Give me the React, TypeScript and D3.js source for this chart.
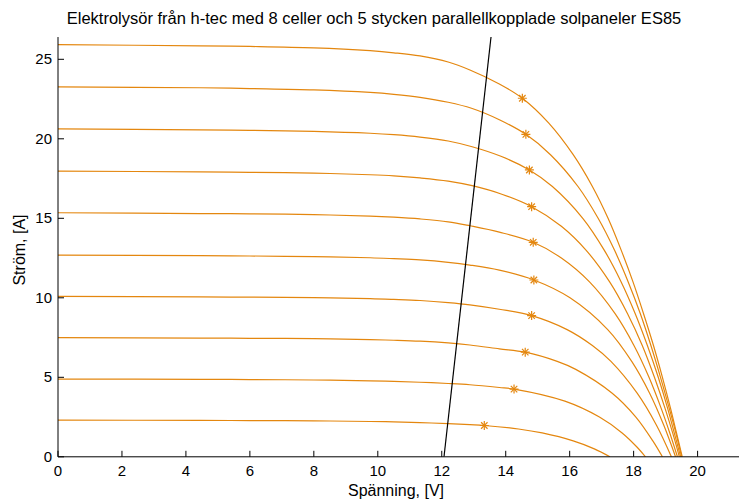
import React from "react";
import * as d3 from "d3";

// Solar panel I-V curves (voltage [V], current [A]), one per irradiance level
const curve1: [number, number][] = [[0, 25.92], [4.44, 25.85], [6, 25.81], [8, 25.72], [9.76, 25.54], [10.5, 25.41], [11.32, 25.21], [12.2, 24.83], [12.88, 24.33], [13.8, 23.45], [14.52, 22.55], [15.34, 21], [16.11, 19], [16.71, 17], [17.2, 15], [17.61, 13], [17.98, 11], [18.31, 9], [18.62, 7], [18.9, 5], [19.16, 3], [19.34, 1.5], [19.52, 0]];
const curve2: [number, number][] = [[0, 23.26], [4.44, 23.21], [6, 23.16], [8, 23.08], [9.76, 22.92], [10.5, 22.8], [11.32, 22.61], [12.2, 22.3], [12.93, 21.92], [13.8, 21.2], [14.63, 20.28], [15.4, 19], [16.26, 17], [16.89, 15], [17.4, 13], [17.83, 11], [18.21, 9], [18.54, 7], [18.84, 5], [19.12, 3], [19.32, 1.5], [19.5, 0]];
const curve3: [number, number][] = [[0, 20.62], [4.44, 20.56], [6, 20.53], [8, 20.47], [9.76, 20.35], [10.5, 20.26], [11.32, 20.11], [12.2, 19.86], [12.95, 19.5], [13.85, 18.9], [14.74, 18.04], [15.46, 17], [16.41, 15], [17.08, 13], [17.61, 11], [18.05, 9], [18.43, 7], [18.77, 5], [19.07, 3], [19.27, 1.5], [19.47, 0]];
const curve4: [number, number][] = [[0, 17.97], [4.44, 17.92], [6, 17.89], [8, 17.84], [9.76, 17.74], [10.5, 17.67], [11.32, 17.54], [12.2, 17.34], [12.95, 17.05], [13.9, 16.5], [14.81, 15.73], [15.74, 14.5], [16.51, 13], [17.25, 11], [17.81, 9], [18.27, 7], [18.65, 5], [18.99, 3], [19.22, 1.5], [19.43, 0]];
const curve5: [number, number][] = [[0, 15.35], [4.44, 15.3], [6, 15.28], [8, 15.23], [9.76, 15.14], [10.5, 15.07], [11.32, 14.96], [12.2, 14.78], [12.88, 14.53], [13.8, 14.13], [14.86, 13.49], [15.74, 12.5], [16.62, 11], [17.42, 9], [18.01, 7], [18.48, 5], [18.87, 3], [19.13, 1.5], [19.37, 0]];
const curve6: [number, number][] = [[0, 12.69], [4.44, 12.65], [6, 12.63], [8, 12.59], [9.76, 12.52], [10.5, 12.46], [11.32, 12.38], [12.2, 12.23], [12.88, 12.06], [13.8, 11.74], [14.88, 11.12], [16.01, 10], [17.19, 8], [17.94, 6], [18.5, 4], [18.94, 2], [19.31, 0]];
const curve7: [number, number][] = [[0, 10.09], [4.44, 10.06], [6, 10.04], [8, 10.01], [9.76, 9.95], [10.5, 9.9], [11.32, 9.83], [12.2, 9.7], [12.88, 9.56], [13.8, 9.28], [14.81, 8.88], [15.92, 8], [16.71, 7], [17.29, 6], [18.11, 4], [18.71, 2], [19.18, 0]];
const curve8: [number, number][] = [[0, 7.49], [4.44, 7.47], [6, 7.45], [8, 7.43], [9.76, 7.37], [10.5, 7.33], [11.32, 7.27], [12.2, 7.16], [12.88, 7.03], [13.8, 6.79], [14.61, 6.58], [15.61, 6], [16.19, 5.5], [17.33, 4], [18.07, 2.5], [18.6, 1], [18.9, 0]];
const curve9: [number, number][] = [[0, 4.89], [4.44, 4.87], [6, 4.86], [8, 4.83], [9.76, 4.78], [10.5, 4.74], [11.32, 4.69], [12.2, 4.61], [12.88, 4.53], [13.8, 4.36], [14.26, 4.26], [15.85, 3.5], [16.93, 2.5], [17.64, 1.5], [18.11, 0.6], [18.37, 0]];
const curve10: [number, number][] = [[0, 2.31], [4.44, 2.29], [6, 2.28], [8, 2.26], [9.76, 2.22], [10.5, 2.2], [11.32, 2.15], [12.2, 2.09], [12.88, 2.02], [13.33, 1.97], [14.4, 1.75], [15.14, 1.5], [16.11, 1.0], [16.77, 0.5], [17.26, 0]];

const panelCurves = [curve1, curve2, curve3, curve4, curve5, curve6, curve7, curve8, curve9, curve10];

// Maximum power point of each curve
const mppVoltage = [14.52, 14.63, 14.74, 14.81, 14.86, 14.88, 14.81, 14.61, 14.26, 13.33];
const mppCurrent = [22.55, 20.28, 18.04, 15.73, 13.49, 11.12, 8.88, 6.58, 4.26, 1.97];

// Electrolyser load line (8 cells)
const electrolyserV = [12.07, 13.54];
const electrolyserI = [0, 26.4];

const xTicks = [0, 2, 4, 6, 8, 10, 12, 14, 16, 18, 20];
const yTicks = [0, 5, 10, 15, 20, 25];

const title = "Elektrolysör från h-tec med 8 celler och 5 stycken parallellkopplade solpaneler ES85";
const xLabel = "Spänning, [V]";
const yLabel = "Ström, [A]";

const W = 739;
const H = 500;
const ORANGE = "#e4870f";
const FONT = "'Liberation Sans', Arial, Helvetica, sans-serif";

export default function App() {
  const x = d3.scaleLinear().domain([0, 20]).range([58, 697.6]);
  const y = d3.scaleLinear().domain([0, 25]).range([456.8, 59.3]);
  const yMax = 26.4;
  const x0 = x(0);
  const y0 = y(0);

  const line = d3
    .line<[number, number]>()
    .x((d) => x(d[0]))
    .y((d) => y(d[1]))
    .curve(d3.curveCatmullRom.alpha(0.5));

  const loadLine = d3
    .line<number>()
    .x((d) => x(d))
    .y((d, i) => y(electrolyserI[i]));

  const star = (cx: number, cy: number, key: number) => {
    const r = 4.5;
    const d = r * 0.72;
    return (
      <g key={key} stroke={ORANGE} strokeWidth={1.2}>
        <line x1={cx - r} y1={cy} x2={cx + r} y2={cy} />
        <line x1={cx} y1={cy - r} x2={cx} y2={cy + r} />
        <line x1={cx - d} y1={cy - d} x2={cx + d} y2={cy + d} />
        <line x1={cx - d} y1={cy + d} x2={cx + d} y2={cy - d} />
      </g>
    );
  };

  return (
    <svg
      width={W}
      height={H}
      style={{ position: "absolute", left: 0, top: 0, background: "#fff" }}
      fontFamily={FONT}
    >
      <defs>
        <clipPath id="plotArea">
          <rect x={x0} y={y(yMax)} width={W - x0} height={y0 - y(yMax)} />
        </clipPath>
      </defs>

      <text x={374} y={24} textAnchor="middle" fontSize={16.5} fill="#000">
        {title}
      </text>

      <g clipPath="url(#plotArea)">
        {panelCurves.map((c, i) => (
          <path key={i} d={line(c) || ""} fill="none" stroke={ORANGE} strokeWidth={1.2} />
        ))}
        <path d={loadLine(electrolyserV) || ""} fill="none" stroke="#000" strokeWidth={1.2} />
        {mppVoltage.map((v, i) => star(x(v), y(mppCurrent[i]), i))}
      </g>

      {/* axes */}
      <line x1={x0} y1={y0} x2={W} y2={y0} stroke="#000" strokeWidth={1} />
      <line x1={x0} y1={y0} x2={x0} y2={y(yMax)} stroke="#000" strokeWidth={1} />

      {xTicks.map((t) => (
        <g key={"x" + t}>
          <line x1={x(t)} y1={y0} x2={x(t)} y2={y0 - 6} stroke="#000" strokeWidth={1} />
          <text x={x(t)} y={y0 + 19} textAnchor="middle" fontSize={15} fill="#000">
            {t}
          </text>
        </g>
      ))}
      {yTicks.map((t) => (
        <g key={"y" + t}>
          <line x1={x0} y1={y(t)} x2={x0 + 6} y2={y(t)} stroke="#000" strokeWidth={1} />
          <text x={x0 - 6} y={y(t) + 5} textAnchor="end" fontSize={15} fill="#000">
            {t}
          </text>
        </g>
      ))}

      <text x={396} y={496} textAnchor="middle" fontSize={16} fill="#000">
        {xLabel}
      </text>
      <text
        transform={`translate(25, ${250}) rotate(-90)`}
        textAnchor="middle"
        fontSize={16}
        fill="#000"
      >
        {yLabel}
      </text>
    </svg>
  );
}
